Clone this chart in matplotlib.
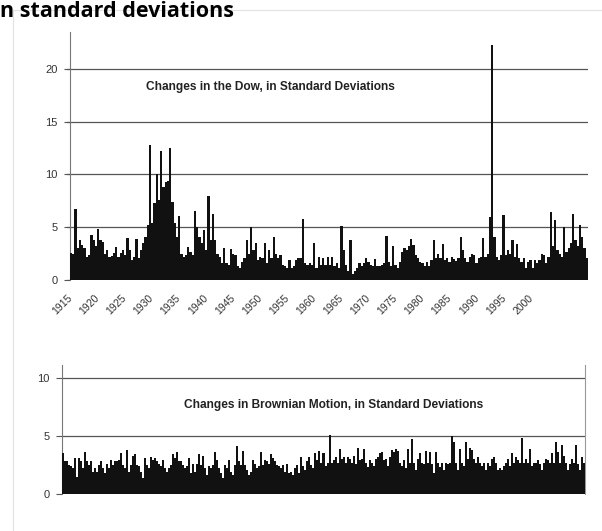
import numpy as np
import matplotlib.pyplot as plt

# Dow: size of changes, in standard deviations (left to right)
dow_sd = [
    2.6, 2.5, 6.7, 3.0, 3.8, 3.3, 3.0, 2.2, 2.4, 4.3, 3.8, 3.2, 4.8, 3.8, 3.6, 2.5, 2.8, 2.2,
    2.3, 2.6, 3.1, 2.2, 2.6, 2.8, 2.4, 4.0, 2.8, 1.9, 2.2, 3.9, 2.1, 2.8, 3.5, 4.1, 5.2,
    12.8, 5.4, 7.3, 10.0, 7.6, 12.2, 8.8, 9.3, 9.4, 12.5, 7.4, 5.4, 4.1, 6.1, 2.5, 2.2, 2.4,
    3.1, 2.7, 2.4, 6.5,
    5.0, 4.1, 3.5, 4.7, 2.8, 8.0, 3.8, 6.3, 3.8, 2.5, 2.2, 1.6, 3.0, 1.6, 1.4, 2.9, 2.5, 2.4,
    1.3, 1.1, 1.7, 2.1, 3.8, 2.5, 5.0, 2.8, 3.5, 1.9, 2.2, 2.1, 3.5, 1.6, 2.8, 2.1, 4.1, 2.5,
    2.1, 2.4, 1.4, 1.3, 1.1, 1.9, 1.1, 1.3, 1.9, 2.1, 2.1, 5.8, 1.6, 1.4, 1.6, 1.4, 3.5, 1.1,
    2.2, 1.4, 2.1, 1.4,
    2.2, 1.4, 2.2, 1.3, 1.6, 1.1, 5.1, 2.8, 1.4, 0.9, 3.8, 0.6, 0.9, 1.1, 1.6, 1.3, 1.6, 2.1,
    1.7, 1.4, 1.3, 2.0, 1.3, 1.3, 1.4, 1.6, 4.2, 1.7, 1.3, 3.2, 1.4, 1.1, 1.7, 2.7, 3.0, 2.8,
    3.2, 3.9, 3.3, 2.4, 2.1, 1.7, 1.6, 1.3, 1.7, 1.3, 1.9, 3.8, 2.1, 2.5, 2.1, 3.4, 1.9, 2.1,
    1.7, 2.2,
    2.0, 1.8, 2.1, 4.1, 2.8, 2.1, 1.7, 2.2, 2.5, 2.4, 1.6, 2.1, 2.2, 4.0, 2.2, 2.5, 6.0, 22.3,
    4.1, 2.2, 1.9, 2.4, 6.2, 2.4, 2.8, 2.5, 3.8, 2.2, 3.4, 2.1, 1.7, 2.1, 1.1, 1.7, 1.9, 1.1,
    1.9, 1.6, 1.9, 2.5, 2.4, 1.6, 2.2, 6.4, 3.2, 5.7, 2.8, 2.5, 2.2, 5.0, 2.7, 3.0, 3.5, 6.3,
    3.8, 3.2, 5.2, 4.1, 3.0, 2.1,
]

# Brownian motion: size of changes, in standard deviations
brown_sd = [
    3.5, 2.8, 2.8, 2.5, 2.4, 2.2, 3.1, 1.5, 3.1, 2.8, 2.2, 3.6, 2.8, 2.5, 2.8, 1.9, 2.2, 1.9,
    2.5, 2.8, 2.2, 1.8, 2.6, 2.2, 2.9, 2.5, 2.8, 2.8, 2.9, 3.5, 2.5, 2.2, 3.8, 1.9, 2.5, 3.3,
    3.4, 2.5, 2.4, 1.9, 1.4, 3.1, 2.5, 2.2, 3.2, 2.9, 3.1, 2.8, 2.6, 2.4, 2.9, 2.2, 1.9, 2.2,
    2.5, 3.4, 3.1, 3.6, 2.8, 2.8, 2.5, 2.2, 2.4, 3.1, 1.8, 2.6, 1.9, 2.6, 3.4, 2.5, 3.3, 2.2,
    1.6, 2.4, 2.2, 2.5, 3.6, 2.9, 2.2, 1.8, 1.4, 2.5, 2.2, 2.9, 1.9, 1.6, 2.5, 4.1, 2.8, 2.5,
    3.7, 2.5, 2.1, 1.6, 1.9, 2.9, 2.6, 2.2, 2.4, 3.6, 2.5, 2.9, 2.8, 2.6, 3.4, 3.1, 2.8, 2.5,
    2.4, 2.2, 2.5, 1.9, 2.6, 1.8, 1.9, 1.6, 2.2, 2.5, 1.8, 3.2, 2.4, 2.1, 2.8, 3.2, 2.5, 2.2,
    3.5, 2.9,
    3.7, 2.7, 3.5, 2.4, 2.7, 5.1, 2.7, 2.9, 3.2, 2.7, 3.9, 3.0, 3.2, 2.7, 3.2, 3.0, 2.7, 3.3,
    2.6, 4.0, 2.9, 3.0, 3.9, 2.7, 2.3, 2.9, 2.7, 2.4, 3.0, 3.2, 3.5, 3.6, 2.9, 3.0, 2.4, 3.2,
    3.8, 3.6, 3.9, 3.7, 2.7, 2.4, 2.9, 2.2, 3.9, 2.7, 4.7, 2.7, 2.1, 3.0, 3.5, 2.7, 2.6, 3.7,
    2.7, 3.6, 2.6, 1.8, 3.6, 2.7, 2.3, 2.7, 2.1, 2.7, 2.6, 2.7, 5.0, 4.5, 2.7, 2.1, 3.9, 2.7,
    2.4, 4.5, 3.0, 4.0, 3.8, 3.0, 2.7, 3.2, 2.7, 2.4, 2.7, 2.1, 2.7, 2.4, 3.0, 3.2, 2.7, 2.1,
    2.2, 2.1, 2.4, 2.7, 3.0, 2.4, 3.5, 2.7, 3.2, 2.9, 2.7, 4.8, 2.7, 3.0, 2.7, 3.9, 2.4, 2.7,
    2.7, 2.9, 2.6, 2.1, 2.7, 3.0, 2.9, 2.7, 3.5, 2.7, 4.5, 3.6, 2.7, 4.2, 3.3, 2.7, 2.1, 2.6,
    3.0, 2.7, 4.2, 2.6, 2.1, 3.2, 2.7,
]

year_ticks = list(range(1915, 2001, 5))
dow_title = "Changes in the Dow, in Standard Deviations"
brown_title = "Changes in Brownian Motion, in Standard Deviations"

ink = "#111111"
txt = "#333333"
grid = "#555555"

plt.rcParams['font.family'] = ['Liberation Sans', 'DejaVu Sans']

fig = plt.figure(figsize=(6.02, 5.31), dpi=100)

# heading at the very top of the scan
fig.text(0.0, 0.999, "n standard deviations", family=['Open Sans', 'DejaVu Sans'],
         fontsize=15.5, fontweight='bold', color='black', ha='left', va='top')

# faint border of the chart area
fig.add_artist(plt.Line2D([13 / 602, 1.0], [1 - 10 / 531, 1 - 10 / 531],
                          color='#e2e2e2', lw=0.8, transform=fig.transFigure, zorder=0))
fig.add_artist(plt.Line2D([13 / 602, 13 / 602], [0.0, 1 - 10 / 531],
                          color='#e2e2e2', lw=0.8, transform=fig.transFigure, zorder=0))

# ---- top panel: the Dow
ax1 = fig.add_axes([67 / 602, 251 / 531, 521 / 602, 248 / 531])
x0, x1 = 1915.55, 2011.1
edges = np.linspace(x0, x1, len(dow_sd) + 1)
ax1.stairs(dow_sd, edges, fill=True, color=ink, linewidth=0, zorder=3)
ax1.set_xlim(1915, x1)
ax1.set_ylim(0, 23.5)
ax1.set_yticks([0, 5, 10, 15, 20])
ax1.set_xticks(year_ticks)
ax1.set_xticklabels([str(y) for y in year_ticks], rotation=45, ha='right', va='top',
                    rotation_mode='anchor', fontsize=7.5, color=txt)
ax1.tick_params(axis='x', length=0, pad=9)
ax1.tick_params(axis='y', length=4, color=grid, labelsize=8, labelcolor=txt, pad=5)
ax1.yaxis.grid(True, color=grid, lw=0.9)
ax1.set_axisbelow(True)
for s in ['top', 'right', 'bottom']:
    ax1.spines[s].set_visible(False)
ax1.spines['left'].set_color('#777777')
ax1.spines['left'].set_bounds(0, 23.5)
ax1.spines['left'].set_position(('data', x0))
ax1.text(0.151, 0.778, dow_title, transform=ax1.transAxes, fontsize=8.6,
         fontweight='bold', color='#222222', va='center', ha='left')

# ---- bottom panel: Brownian motion
ax2 = fig.add_axes([62 / 602, 37 / 531, 523 / 602, 129 / 531])
edges2 = np.linspace(0, 1, len(brown_sd) + 1)
ax2.stairs(brown_sd, edges2, fill=True, color=ink, linewidth=0, zorder=3)
ax2.set_xlim(0, 1)
ax2.set_ylim(0, 11.1)
ax2.set_yticks([0, 5, 10])
ax2.set_xticks([])
ax2.tick_params(axis='y', length=4, color=grid, labelsize=8, labelcolor=txt, pad=5)
ax2.yaxis.grid(True, color=grid, lw=0.9)
ax2.set_axisbelow(True)
ax2.spines['top'].set_visible(False)
ax2.spines['bottom'].set_visible(False)
ax2.spines['left'].set_color('#777777')
ax2.spines['right'].set_color('#999999')
ax2.text(0.234, 0.69, brown_title, transform=ax2.transAxes, fontsize=8.6,
         fontweight='bold', color='#222222', va='center', ha='left')

fig.savefig('out.png', dpi=100)
